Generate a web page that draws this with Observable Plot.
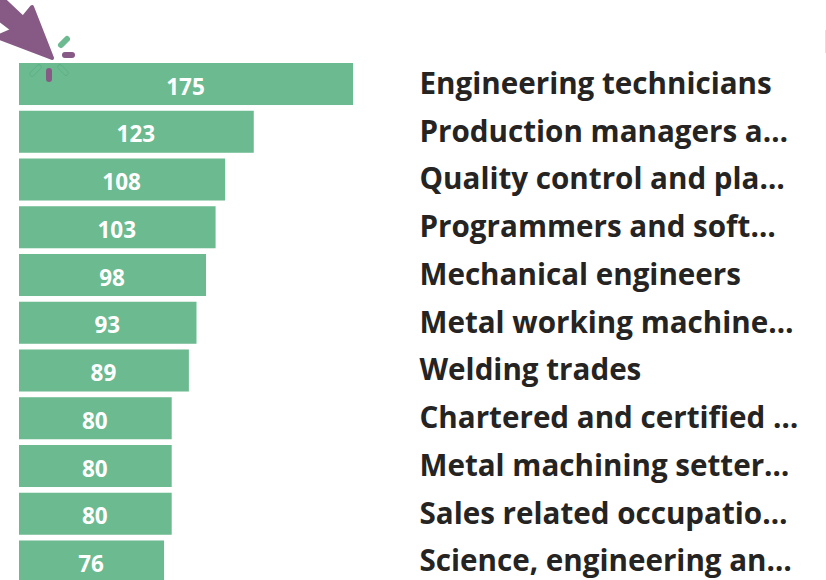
<!DOCTYPE html>
<html><head><meta charset="utf-8">
<script src="https://cdn.jsdelivr.net/npm/d3@7"></script>
<script src="https://cdn.jsdelivr.net/npm/@observablehq/plot@0.6"></script>
<style>html,body{margin:0;padding:0;background:#fff;overflow:hidden}svg{display:block}</style>
</head><body><div id="chart"></div>
<script>
const occupations = ["Engineering technicians","Production managers a…","Quality control and pla…","Programmers and soft…","Mechanical engineers","Metal working machine…","Welding trades","Chartered and certified …","Metal machining setter…","Sales related occupatio…","Science, engineering an…"];
const counts = [175,123,108,103,98,93,89,80,80,80,76];
const rows = occupations.map((name,i)=>({name,count:counts[i]}));

const GREEN = "#6bba90", PURPLE = "#865a85";
const font = "'Open Sans','Noto Sans',sans-serif";

function decoration(){
  const ns="http://www.w3.org/2000/svg";
  const g=document.createElementNS(ns,"g");
  const add=(tag,attrs)=>{const e=document.createElementNS(ns,tag);for(const k in attrs)e.setAttribute(k,attrs[k]);g.appendChild(e);};
  add("path",{d:"M52 58 L32 7 L23 18 L5 1 L-4 -4 L-4 17 L13 30 L-3 37 Z",fill:PURPLE,stroke:PURPLE,"stroke-width":4,"stroke-linejoin":"round"});
  add("line",{x1:61,y1:45,x2:67,y2:39,stroke:GREEN,"stroke-width":6,"stroke-linecap":"round"});
  add("line",{x1:65,y1:55,x2:72,y2:55,stroke:PURPLE,"stroke-width":6,"stroke-linecap":"round"});
  add("line",{x1:49,y1:71,x2:49,y2:79,stroke:PURPLE,"stroke-width":6,"stroke-linecap":"round"});
  add("line",{x1:32,y1:74,x2:39,y2:67,stroke:"#4fa67c","stroke-width":5,"stroke-linecap":"round","stroke-opacity":0.7});
  add("line",{x1:32,y1:74,x2:39,y2:67,stroke:GREEN,"stroke-width":4,"stroke-linecap":"round"});
  add("line",{x1:60,y1:67,x2:66,y2:73,stroke:"#4fa67c","stroke-width":5,"stroke-linecap":"round","stroke-opacity":0.7});
  add("line",{x1:60,y1:67,x2:66,y2:73,stroke:GREEN,"stroke-width":4,"stroke-linecap":"round"});
  add("line",{x1:825.5,y1:30,x2:825.5,y2:53,stroke:"#e0e0e0","stroke-width":1});
  return g;
}

const chart = Plot.plot({
  width:826, height:580,
  marginTop:0, marginBottom:0, marginLeft:0, marginRight:0,
  style:{background:"#fff",fontFamily:font},
  x:{domain:[0,175],range:[19,353],axis:null},
  y:{domain:occupations,range:[63,582.5],paddingInner:0.12,paddingOuter:0,round:false,axis:null},
  marks:[
    Plot.barX(rows,{x:"count",y:"name",fill:GREEN}),
    Plot.text(rows,{x:d=>d.count/2,y:"name",text:d=>String(d.count),fill:"#fff",fontSize:22.5,fontWeight:700,textAnchor:"middle",dx:-1,dy:3}),
    Plot.text(rows,{x:()=>0,y:"name",text:"name",dx:400,fill:"#252423",fontSize:29.6,fontWeight:700,textAnchor:"start"}),
    decoration
  ]
});
document.getElementById("chart").append(chart);
</script></body></html>
